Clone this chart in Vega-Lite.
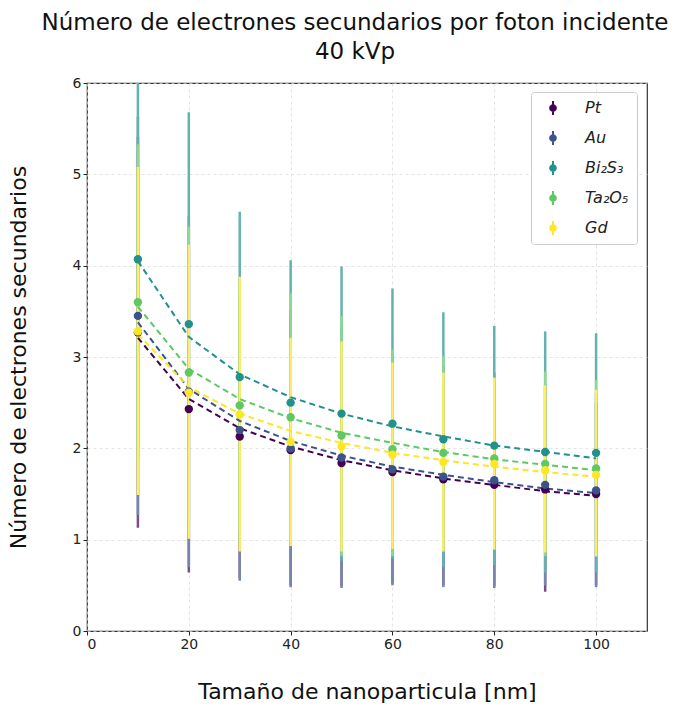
{
  "$schema": "https://vega.github.io/schema/vega-lite/v6.json",
  "width": 560,
  "height": 548,
  "autosize": "none",
  "padding": {"left": 87, "top": 83, "right": 31, "bottom": 76},
  "background": "white",
  "title": {
    "text": ["Número de electrones secundarios por foton incidente", "40 kVp"],
    "fontSize": 23,
    "fontWeight": "normal",
    "lineHeight": 29,
    "anchor": "middle",
    "offset": 12,
    "dx": -12,
    "color": "#111"
  },
  "config": {
    "font": "DejaVu Sans",
    "view": {"stroke": "#333", "strokeWidth": 1.2},
    "axis": {
      "domain": false,
      "labelFontSize": 14,
      "labelColor": "#222",
      "titleFontSize": 22,
      "titleFontWeight": "normal",
      "titleColor": "#111",
      "tickColor": "#222",
      "tickSize": 4,
      "grid": true,
      "gridColor": "#d8d8d8",
      "gridDash": [3, 3],
      "gridOpacity": 0.7
    }
  },
  "data": {
    "values": [
      {"m": "Pt", "x": 10, "y": 3.27, "lo": 1.13, "hi": 5.41, "fit": 3.21},
      {"m": "Pt", "x": 20, "y": 2.43, "lo": 0.64, "hi": 4.22, "fit": 2.54},
      {"m": "Pt", "x": 30, "y": 2.13, "lo": 0.58, "hi": 3.66, "fit": 2.22},
      {"m": "Pt", "x": 40, "y": 1.98, "lo": 0.50, "hi": 3.44, "fit": 2.02},
      {"m": "Pt", "x": 50, "y": 1.84, "lo": 0.49, "hi": 3.18, "fit": 1.87},
      {"m": "Pt", "x": 60, "y": 1.74, "lo": 0.52, "hi": 2.96, "fit": 1.76},
      {"m": "Pt", "x": 70, "y": 1.66, "lo": 0.50, "hi": 2.80, "fit": 1.67},
      {"m": "Pt", "x": 80, "y": 1.60, "lo": 0.49, "hi": 2.73, "fit": 1.60},
      {"m": "Pt", "x": 90, "y": 1.55, "lo": 0.43, "hi": 2.67, "fit": 1.53},
      {"m": "Pt", "x": 100, "y": 1.50, "lo": 0.50, "hi": 2.50, "fit": 1.48},

      {"m": "Au", "x": 10, "y": 3.45, "lo": 1.27, "hi": 5.63, "fit": 3.38},
      {"m": "Au", "x": 20, "y": 2.62, "lo": 0.70, "hi": 4.54, "fit": 2.65},
      {"m": "Au", "x": 30, "y": 2.20, "lo": 0.55, "hi": 3.85, "fit": 2.30},
      {"m": "Au", "x": 40, "y": 2.00, "lo": 0.48, "hi": 3.52, "fit": 2.08},
      {"m": "Au", "x": 50, "y": 1.90, "lo": 0.47, "hi": 3.33, "fit": 1.92},
      {"m": "Au", "x": 60, "y": 1.77, "lo": 0.50, "hi": 3.04, "fit": 1.80},
      {"m": "Au", "x": 70, "y": 1.69, "lo": 0.48, "hi": 2.90, "fit": 1.71},
      {"m": "Au", "x": 80, "y": 1.65, "lo": 0.47, "hi": 2.83, "fit": 1.63},
      {"m": "Au", "x": 90, "y": 1.60, "lo": 0.50, "hi": 2.70, "fit": 1.56},
      {"m": "Au", "x": 100, "y": 1.54, "lo": 0.48, "hi": 2.60, "fit": 1.51},

      {"m": "Bi₂S₃", "x": 10, "y": 4.07, "lo": 2.00, "hi": 6.20, "fit": 4.05},
      {"m": "Bi₂S₃", "x": 20, "y": 3.36, "lo": 1.04, "hi": 5.68, "fit": 3.22},
      {"m": "Bi₂S₃", "x": 30, "y": 2.78, "lo": 0.97, "hi": 4.59, "fit": 2.81},
      {"m": "Bi₂S₃", "x": 40, "y": 2.50, "lo": 0.94, "hi": 4.06, "fit": 2.56},
      {"m": "Bi₂S₃", "x": 50, "y": 2.38, "lo": 0.77, "hi": 3.99, "fit": 2.38},
      {"m": "Bi₂S₃", "x": 60, "y": 2.27, "lo": 0.79, "hi": 3.75, "fit": 2.24},
      {"m": "Bi₂S₃", "x": 70, "y": 2.10, "lo": 0.70, "hi": 3.49, "fit": 2.13},
      {"m": "Bi₂S₃", "x": 80, "y": 2.03, "lo": 0.72, "hi": 3.34, "fit": 2.03},
      {"m": "Bi₂S₃", "x": 90, "y": 1.96, "lo": 0.64, "hi": 3.28, "fit": 1.96},
      {"m": "Bi₂S₃", "x": 100, "y": 1.95, "lo": 0.64, "hi": 3.26, "fit": 1.89},

      {"m": "Ta₂O₅", "x": 10, "y": 3.60, "lo": 1.87, "hi": 5.33, "fit": 3.55},
      {"m": "Ta₂O₅", "x": 20, "y": 2.83, "lo": 1.23, "hi": 4.43, "fit": 2.87},
      {"m": "Ta₂O₅", "x": 30, "y": 2.47, "lo": 1.10, "hi": 3.80, "fit": 2.54},
      {"m": "Ta₂O₅", "x": 40, "y": 2.34, "lo": 0.98, "hi": 3.70, "fit": 2.33},
      {"m": "Ta₂O₅", "x": 50, "y": 2.14, "lo": 0.82, "hi": 3.45, "fit": 2.17},
      {"m": "Ta₂O₅", "x": 60, "y": 1.99, "lo": 0.82, "hi": 3.08, "fit": 2.06},
      {"m": "Ta₂O₅", "x": 70, "y": 1.95, "lo": 0.89, "hi": 3.01, "fit": 1.96},
      {"m": "Ta₂O₅", "x": 80, "y": 1.89, "lo": 0.98, "hi": 2.78, "fit": 1.88},
      {"m": "Ta₂O₅", "x": 90, "y": 1.83, "lo": 0.82, "hi": 2.84, "fit": 1.82},
      {"m": "Ta₂O₅", "x": 100, "y": 1.78, "lo": 0.81, "hi": 2.75, "fit": 1.76},

      {"m": "Gd", "x": 10, "y": 3.28, "lo": 1.49, "hi": 5.08, "fit": 3.25},
      {"m": "Gd", "x": 20, "y": 2.61, "lo": 1.01, "hi": 4.23, "fit": 2.67},
      {"m": "Gd", "x": 30, "y": 2.37, "lo": 0.87, "hi": 3.88, "fit": 2.38},
      {"m": "Gd", "x": 40, "y": 2.07, "lo": 0.93, "hi": 3.21, "fit": 2.19},
      {"m": "Gd", "x": 50, "y": 2.02, "lo": 0.87, "hi": 3.17, "fit": 2.06},
      {"m": "Gd", "x": 60, "y": 1.93, "lo": 0.90, "hi": 2.94, "fit": 1.95},
      {"m": "Gd", "x": 70, "y": 1.85, "lo": 0.87, "hi": 2.83, "fit": 1.87},
      {"m": "Gd", "x": 80, "y": 1.83, "lo": 0.89, "hi": 2.77, "fit": 1.80},
      {"m": "Gd", "x": 90, "y": 1.76, "lo": 0.86, "hi": 2.69, "fit": 1.74},
      {"m": "Gd", "x": 100, "y": 1.71, "lo": 0.82, "hi": 2.64, "fit": 1.69}
    ]
  },
  "encoding": {
    "x": {
      "field": "x",
      "type": "quantitative",
      "title": "Tamaño de nanoparticula [nm]",
      "scale": {"domain": [0, 110], "nice": false},
      "axis": {"values": [0, 20, 40, 60, 80, 100], "titlePadding": 30}
    }
  },
  "layer": [
    {
      "mark": {"type": "rule", "strokeWidth": 2.5, "opacity": 1, "clip": true},
      "encoding": {
        "y": {
          "field": "lo",
          "type": "quantitative",
          "title": "Número de electrones secundarios",
          "scale": {"domain": [0, 6], "nice": false},
          "axis": {"values": [0, 1, 2, 3, 4, 5, 6], "format": "d", "titlePadding": 42}
        },
        "y2": {"field": "hi"},
        "stroke": {
          "field": "m",
          "type": "nominal",
          "scale": {
            "domain": ["Pt", "Au", "Bi₂S₃", "Ta₂O₅", "Gd"],
            "range": ["#7c4d87", "#7686ae", "#64b2ae", "#8ed991", "#fdee66"]
          }
        }
      }
    },
    {
      "mark": {"type": "line", "strokeDash": [6, 4], "strokeWidth": 2},
      "encoding": {
        "y": {"field": "fit", "type": "quantitative", "title": "Número de electrones secundarios"},
        "color": {
          "field": "m",
          "type": "nominal",
          "scale": {
            "domain": ["Pt", "Au", "Bi₂S₃", "Ta₂O₅", "Gd"],
            "range": ["#440154", "#3b528b", "#21918c", "#5ec962", "#fde725"]
          }
        }
      }
    },
    {
      "mark": {"type": "point", "filled": true, "size": 70, "opacity": 1},
      "encoding": {
        "y": {"field": "y", "type": "quantitative", "title": "Número de electrones secundarios"},
        "color": {
          "field": "m",
          "type": "nominal",
          "scale": {
            "domain": ["Pt", "Au", "Bi₂S₃", "Ta₂O₅", "Gd"],
            "range": ["#440154", "#3b528b", "#21918c", "#5ec962", "#fde725"]
          },
          "legend": {
            "orient": "none",
            "legendX": 444,
            "legendY": 9,
            "title": null,
            "labelFontSize": 16,
            "labelFontStyle": "italic",
            "labelColor": "#222",
            "symbolType": "M-0.55,0A0.55,0.55 0 1,1 0.55,0A0.55,0.55 0 1,1 -0.55,0Z M-0.14,-1L0.14,-1L0.14,1L-0.14,1Z",
            "symbolSize": 196,
            "symbolOpacity": 1,
            "symbolStrokeWidth": 0,
            "symbolDash": [],
            "symbolOffset": 6,
            "padding": 8,
            "rowPadding": 14,
            "labelOffset": 24,
            "strokeColor": "#cccccc",
            "cornerRadius": 3,
            "fillColor": "white"
          }
        }
      }
    }
  ]
}
